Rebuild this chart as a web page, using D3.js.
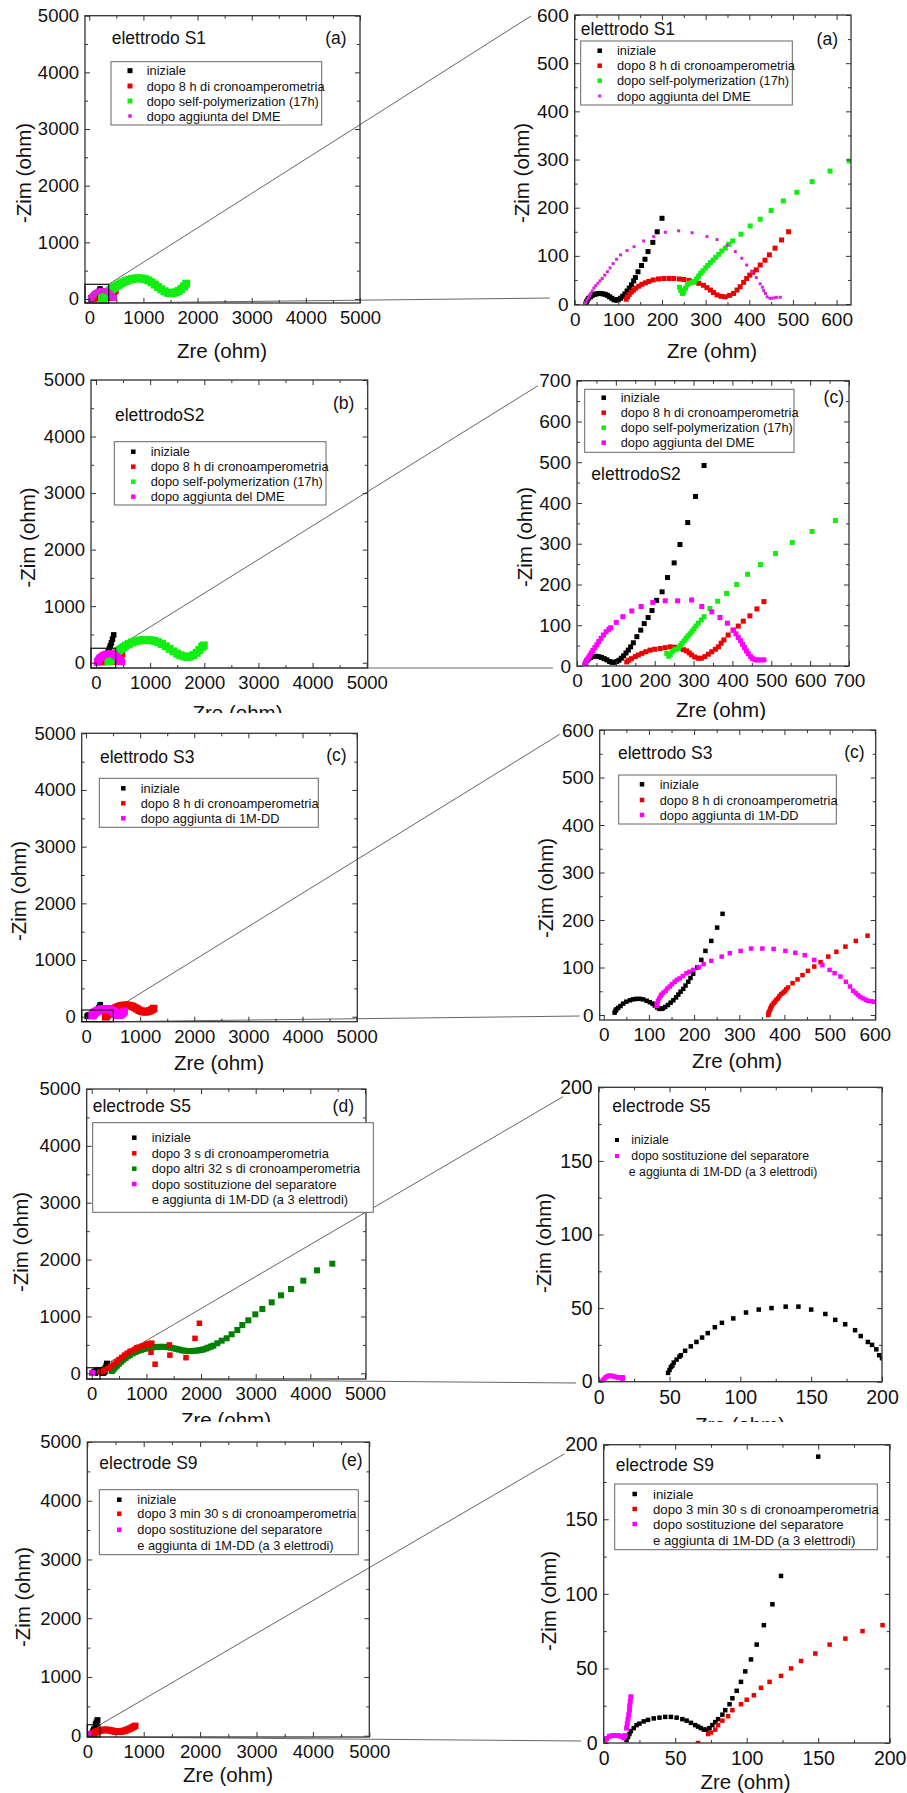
<!DOCTYPE html>
<html><head><meta charset="utf-8">
<script src="https://cdn.jsdelivr.net/npm/d3@7"></script>
<style>
html,body{margin:0;padding:0;background:#fff;}
svg{display:block;}
text{font-family:"Liberation Sans",Arial,sans-serif;fill:#111;}
</style></head><body>
<svg id="chart" width="907" height="1793"></svg>
<script>
// ---------------- DATA ----------------
const ticksWide = [0,1000,2000,3000,4000,5000];
const ticks600 = [0,100,200,300,400,500,600];
const ticks700 = [0,100,200,300,400,500,600,700];
const ticks200 = [0,50,100,150,200];

const legendS1 = ["iniziale","dopo 8 h di cronoamperometria","dopo self-polymerization (17h)","dopo aggiunta del DME"];
const legendS3 = ["iniziale","dopo 8 h di cronoamperometria","dopo aggiunta di 1M-DD"];
const legendS5 = ["iniziale","dopo 3 s di cronoamperometria","dopo altri 32 s di cronoamperometria","dopo sostituzione del separatore","e aggiunta di 1M-DD (a 3 elettrodi)"];
const legendS5zoom = ["iniziale","dopo sostituzione del separatore","e aggiunta di 1M-DD (a 3 elettrodi)"];
const legendS9 = ["iniziale","dopo 3 min 30 s di cronoamperometria","dopo sostituzione del separatore","e aggiunta di 1M-DD (a 3 elettrodi)"];

// electrode S1
const s1Iniziale = [[25,0],[27,4],[29,8],[32,12],[36,15],[40,18],[45,20],[50,21],[55,22],[60,22],[65,21],[70,20],[75,18],[80,15],[85,12],[90,9],[95,8],[100,9],[105,12],[110,16],[115,21],[120,27],[125,33],[130,40],[135,48],[139,55],[145,67],[153,80],[161,93],[168,109],[179,128],[189,150],[200,178]];
const s1Crono = [[118,10],[121,15],[125,20],[130,25],[135,29],[140,33],[147,37],[154,41],[162,44],[170,47],[180,50],[192,52],[204,53],[216,53],[227,53],[240,52],[250,51],[262,49],[273,46],[284,43],[295,39],[303,34],[311,29],[318,24],[326,19],[335,16],[345,15],[355,18],[364,22],[372,29],[379,36],[387,45],[394,53],[401,60],[408,66],[416,71],[425,81],[436,91],[446,102],[459,116],[474,133],[490,150]];
const s1Self = [[240,35],[243,28],[247,22],[250,25],[254,33],[258,40],[263,43],[268,45],[274,46],[279,52],[284,58],[289,64],[294,69],[300,75],[305,80],[311,86],[317,91],[323,97],[330,103],[337,110],[345,116],[353,124],[362,131],[381,145],[402,162],[425,176],[450,194],[478,214],[509,232],[544,254],[585,276],[629,297],[680,318],[735,338],[790,352],[850,362],[910,366],[970,362],[1030,350],[1090,328],[1150,295],[1210,255],[1270,210],[1330,170],[1390,135],[1450,110],[1500,102],[1550,105],[1600,118],[1650,140],[1700,175],[1750,220],[1790,270]];
const s1DME = [[22,0],[25,3],[28,8],[31,12],[34,17],[37,22],[40,27],[44,33],[48,38],[53,43],[58,48],[63,53],[69,60],[75,67],[81,75],[88,84],[96,93],[105,102],[120,111],[136,119],[158,131],[181,140],[208,149],[238,152],[269,148],[303,140],[326,134],[349,122],[368,109],[383,95],[394,81],[406,67],[416,55],[425,42],[430,35],[433,28],[437,22],[441,15],[447,12],[452,12],[458,13],[463,14],[471,14]];

// electrode S2
const s2Iniziale = [[21,4],[23,9],[26,14],[30,18],[35,21],[41,23],[48,24],[56,23],[63,21],[70,18],[77,15],[84,11],[90,9],[96,9],[102,11],[108,14],[114,19],[120,25],[126,32],[132,39],[138,47],[145,57],[154,72],[164,88],[173,104],[183,119],[193,136],[205,161],[219,182],[233,217],[250,253],[265,298],[285,352],[305,416],[327,492]];
const s2Crono = [[128,10],[133,14],[140,18],[150,23],[158,27],[167,31],[177,35],[188,39],[200,41],[214,43],[227,45],[240,47],[252,46],[265,43],[274,40],[282,37],[289,32],[295,27],[303,22],[312,19],[320,19],[329,23],[338,29],[347,35],[356,41],[364,47],[371,56],[378,64],[389,76],[402,88],[415,98],[428,110],[445,123],[463,140],[481,158]];
const s2Self = [[231,31],[236,24],[240,28],[245,35],[250,39],[255,41],[261,43],[266,50],[270,56],[276,62],[281,68],[286,74],[291,79],[296,85],[301,91],[306,98],[312,105],[320,113],[327,121],[342,141],[362,159],[385,178],[411,200],[439,225],[472,249],[511,276],[554,303],[605,330],[665,357],[730,378],[800,392],[870,400],[940,402],[1010,398],[1080,385],[1150,362],[1220,330],[1290,290],[1360,245],[1430,200],[1500,160],[1560,130],[1620,112],[1680,100],[1740,110],[1800,135],[1860,175],[1910,225],[1960,280],[1990,305]];
const s2DME = [[20,3],[22,8],[25,14],[29,20],[33,26],[37,32],[41,38],[46,45],[51,52],[56,60],[62,68],[68,76],[75,84],[82,90],[87,94],[101,107],[118,121],[141,135],[165,146],[195,156],[227,160],[259,160],[295,162],[321,146],[347,133],[368,119],[387,105],[402,88],[409,79],[415,70],[421,62],[426,53],[431,45],[436,37],[441,30],[447,23],[452,18],[458,15],[464,15],[471,15],[481,15]];

// electrode S3
const s3Iniziale = [[24,5],[26,9],[28,12],[32,15],[37,19],[43,24],[50,28],[58,31],[65,33],[72,34],[80,34],[87,33],[95,30],[102,27],[108,24],[113,20],[118,16],[123,13],[128,13],[131,14],[136,17],[142,21],[148,26],[154,31],[160,37],[165,43],[170,49],[176,55],[181,62],[187,70],[192,78],[198,87],[207,100],[216,116],[225,135],[238,156],[251,184],[263,213]];
const s3Crono = [[364,0],[365,4],[366,7],[368,11],[369,14],[371,18],[373,21],[376,25],[379,28],[382,32],[386,35],[389,40],[393,44],[397,47],[401,50],[404,54],[408,58],[418,67],[429,75],[440,84],[452,93],[466,102],[480,111],[497,123],[515,133],[535,144],[558,156],[584,167],[610,178],[640,188],[670,195],[700,199],[740,202],[780,200],[820,192],[860,180],[900,162],[940,140],[980,115],[1020,98],[1060,88],[1100,86],[1140,92],[1180,105],[1220,125],[1250,145]];
const s3DD = [[117,19],[118,24],[120,30],[123,35],[126,40],[128,43],[132,47],[137,51],[141,56],[146,60],[151,65],[157,70],[162,74],[168,77],[175,82],[183,88],[190,91],[198,95],[210,101],[221,107],[238,114],[261,123],[279,130],[303,135],[326,140],[351,140],[376,139],[402,135],[424,131],[445,126],[466,116],[484,105],[500,95],[511,88],[524,81],[536,70],[545,60],[552,51],[558,46],[563,42],[568,38],[574,35],[580,32],[585,30],[591,29],[598,28],[620,30],[645,38],[670,55],[690,75],[705,95]];

// electrode S5
const s5Iniziale = [[49,6],[50,8],[51,10],[52,11],[53,13],[55,15],[57,17],[58,18],[61,21],[65,24],[69,27],[73,30],[77,33],[82,37],[87,40],[95,43],[104,47],[113,49],[122,50],[132,51],[141,51],[150,49],[160,46],[167,42],[174,39],[181,35],[185,31],[190,27],[193,25],[196,22],[198,18],[200,16],[205,12],[215,14],[230,25],[245,50],[258,90],[270,130],[280,170]];
const s5Crono3s = [[150,25],[200,40],[250,60],[300,90],[350,125],[400,160],[450,200],[500,240],[550,280],[600,320],[650,355],[700,385],[732,392],[780,420],[823,451],[870,462],[920,478],[970,490],[1006,510],[1040,515],[1070,525],[1100,530],[1085,370],[1160,160],[1420,500],[1430,320],[1725,275],[1890,615],[1970,880]];
const s5Crono32s = [[366,40],[380,55],[400,75],[430,105],[460,135],[500,170],[540,205],[580,240],[620,270],[660,300],[700,325],[750,350],[800,375],[850,395],[900,412],[950,425],[1000,437],[1050,447],[1100,455],[1150,460],[1200,464],[1250,466],[1300,466],[1350,464],[1400,458],[1450,450],[1500,440],[1550,428],[1600,417],[1650,405],[1700,397],[1750,392],[1800,391],[1850,393],[1900,397],[1950,403],[2000,410],[2043,420],[2090,435],[2134,452],[2180,470],[2225,487],[2298,528],[2378,574],[2469,616],[2560,686],[2664,762],[2755,849],[2865,932],[2993,1037],[3122,1131],[3293,1248],[3463,1372],[3646,1483],[3871,1629],[4122,1811],[4402,1928]];
const s5Separatore = [[2,0],[3,1],[4,2],[5,3],[6,3.5],[7,4],[8,4],[9,4],[10,3.8],[11,3.5],[12,3.2],[13,3],[14,3],[15,3],[16,3],[17,3],[17,2],[17,1],[17,0]];

// electrode S9
const s9Iniziale = [[16,2],[17,4],[18,6],[19,8],[21,10],[23,12],[25,13],[28,14.5],[31,15.5],[35,16.5],[39,17],[43,17.5],[47,17.5],[51,17],[55,16],[58,15],[61,13.5],[64,12],[66,11],[68,10],[70,9],[72,9],[74,10],[76,12],[78,14],[80,16],[83,19],[85,22],[88,26],[90,30],[93,35],[96,41],[99,48],[103,56],[107,66],[112,79],[118,93],[124,112],[150,192],[165,225],[180,265]];
const s9Crono = [[66,0],[73,6],[75,7],[78,9],[80,12],[83,15],[87,18],[90,22],[96,26],[100,29],[105,32],[110,37],[116,41],[124,45],[131,50],[138,55],[148,60],[158,66],[169,70],[181,75],[195,79],[220,85],[250,92],[280,97],[310,100],[340,100],[370,97],[400,92],[430,85],[460,78],[490,72],[520,68],[550,66],[580,68],[610,72],[640,80],[670,88],[700,98],[730,110],[760,122],[790,138],[820,152],[850,168]];
const s9Separatore = [[1,1],[2,3],[4,4.5],[6,5],[8,5],[10,5],[12,4.5],[14,3.5],[15,5],[16,10],[16.5,13],[17,16],[17.5,19],[18,22],[18.2,25],[18.6,28],[19,31]];

// ---------------- STYLE / LAYOUT ----------------
const C = {black:"#000000", red:"#ee0000", lime:"#11ee11", green:"#008000", mag:"#ff00ff", magSoft:"#dd22dd"};

const panels = [
 {id:"p1l", frame:[85,15.7,360,303], xDomain:[-79,5000], yDomain:[-71,5000], xTicks:ticksWide, yTicks:ticksWide, minor:500, clip:[0,0,453,362], font:18.5,
  series:[[s1Iniziale,C.black,5.5],[s1Crono,C.red,6],[s1Self,C.lime,8],[s1DME,C.magSoft,5]],
  title:["elettrodo S1",111.7,38.3], tag:["(a)",346.7,38.3],
  legend:{labels:legendS1, colors:[C.black,C.red,C.lime,C.magSoft], ms:[5,5,5,3.5], box:[111,61.7,321.7,125], mx:130, tx:146.7, rows:[70.7,86,101,116], font:12.8},
  yTitle:[23,173], xTitle:[222,350], zoom:{box:[358,259], to:"p1r", top:[-43.7,1], bottom:[-25,-6]}},
 {id:"p1r", frame:[574.7,15,851,305], xDomain:[0,633], yDomain:[-2,600], xTicks:ticks600, yTicks:ticks600, minor:50, clip:[453,0,454,362], font:19,
  series:[[s1Iniziale,C.black,5],[s1Crono,C.red,5],[s1Self,C.lime,5],[s1DME,C.magSoft,3]],
  title:["elettrodo S1",580.7,29.3], tag:["(a)",838,39.3],
  legend:{labels:legendS1, colors:[C.black,C.red,C.lime,C.magSoft], ms:[4.5,4.5,4.5,3], box:[580.7,41,792.3,105], mx:599.7, tx:617, rows:[50.7,65.7,80.7,96], font:12.8},
  yTitle:[521,173], xTitle:[712,350]},
 {id:"p2l", frame:[91,380,367.7,668], xDomain:[-92,5018], yDomain:[-94,5000], xTicks:ticksWide, yTicks:ticksWide, minor:500, clip:[0,362,453,351], font:18.5,
  series:[[s2Iniziale,C.black,5.5],[s2Crono,C.red,6.5],[s2Self,C.lime,8],[s2DME,C.mag,6.5]],
  title:["elettrodoS2",115,415], tag:["(b)",354.3,403.3],
  legend:{labels:legendS1, colors:[C.black,C.red,C.lime,C.mag], ms:[4.5,4.5,4.5,4.5], box:[114.3,441.7,326,505], mx:133.3, tx:150.7, rows:[451.7,466.7,481.7,496.7], font:12.8},
  yTitle:[27,537.5], xTitle:[237.5,712], zoom:{box:[364,255], to:"p2r", top:[-39,5], bottom:[-24,2]}},
 {id:"p2r", frame:[577,380.7,849,666], xDomain:[0,700], yDomain:[0,700], xTicks:ticks700, yTicks:ticks700, minor:50, clip:[453,362,454,358], font:19,
  series:[[s2Iniziale,C.black,5],[s2Crono,C.red,5],[s2Self,C.lime,5],[s2DME,C.mag,5]],
  title:["elettrodoS2",591.3,474.3], tag:["(c)",844,396.7],
  legend:{labels:legendS1, colors:[C.black,C.red,C.lime,C.mag], ms:[4.5,4.5,4.5,4.5], box:[584.7,389.3,794,452.3], mx:603.7, tx:620.7, rows:[397.7,412.7,427.7,442.7], font:12.8},
  yTitle:[524,537], xTitle:[721,709]},
 {id:"p3l", frame:[81.7,733.3,357.3,1021.7], xDomain:[-80,5012], yDomain:[-88,5000], xTicks:ticksWide, yTicks:ticksWide, minor:500, clip:[0,720,453,355], font:18.5,
  series:[[s3Iniziale,C.black,5.5],[s3Crono,C.red,7.5],[s3DD,C.mag,7.5]],
  title:["elettrodo S3",100,756.7], tag:["(c)",346.7,755],
  legend:{labels:legendS3, colors:[C.black,C.red,C.mag], ms:[4.5,4.5,4.5], box:[99.3,778.3,318.3,827.3], mx:123.3, tx:140.7, rows:[788.3,803.3,818.3], font:12.8},
  yTitle:[18,891], xTitle:[219,1062], zoom:{box:[504,118], to:"p3r", top:[-40,4.3], bottom:[-20,1]}},
 {id:"p3r", frame:[599.7,730,875.7,1020], xDomain:[-9,602], yDomain:[-10.5,600], xTicks:ticks600, yTicks:ticks600, minor:50, clip:[453,720,454,355], font:19,
  series:[[s3Iniziale,C.black,4.5],[s3Crono,C.red,4.5],[s3DD,C.mag,4.5]],
  title:["elettrodo S3",618,753.3], tag:["(c)",864.7,751.7],
  legend:{labels:legendS3, colors:[C.black,C.red,C.mag], ms:[4.5,4.5,4.5], box:[618.7,775,836.3,824], mx:642, tx:659.7, rows:[784.3,800,815], font:12.8},
  yTitle:[545,888], xTitle:[737,1060]},
 {id:"p4l", frame:[86.7,1089,366,1379], xDomain:[-91.5,5018], yDomain:[-100,5000], xTicks:ticksWide, yTicks:ticksWide, minor:500, clip:[0,1075,453,347], font:18.5,
  series:[[s5Iniziale,C.black,6],[s5Crono32s,C.green,6],[s5Crono3s,C.red,5.5],[s5Separatore,C.mag,5]],
  title:["electrode S5",92.7,1105.7], tag:["(d)",354,1105.7],
  legend:{labels:legendS5, colors:[C.black,C.red,C.green,C.mag,null], ms:[4.5,4.5,4.5,4.5,0], box:[92.7,1122.7,373.3,1212.3], mx:134.3, tx:151.7, rows:[1137.7,1153.3,1168.7,1184,1199.3], font:12.8},
  yTitle:[20,1242], xTitle:[226,1419], zoom:{box:[152,98], to:"p4r", top:[-35.7,9.4], bottom:[-22.7,1.3]}},
 {id:"p4r", frame:[598.7,1087.3,882,1381.7], xDomain:[0,200], yDomain:[0,200], xTicks:ticks200, yTicks:ticks200, minor:25, clip:[453,1075,454,347], font:19.5,
  series:[[s5Iniziale,C.black,4.5],[s5Separatore,C.mag,4.5]],
  title:["electrode S5",612.3,1105.7], tag:null,
  legend:{labels:legendS5zoom, colors:[C.black,C.mag,null], ms:[4,4,0], box:null, mx:617, tx:631.3, rows:[1140,1156,1172.3], font:12.3},
  yTitle:[543,1243], xTitle:[740,1424]},
 {id:"p5l", frame:[87.3,1442,369.3,1737], xDomain:[0,5000], yDomain:[-22,5000], xTicks:ticksWide, yTicks:ticksWide, minor:500, clip:[0,1422,453,371], font:18.5,
  series:[[s9Iniziale,C.black,6],[s9Crono,C.red,6.5],[s9Separatore,C.mag,5]],
  title:["electrode S9",99.3,1463], tag:["(e)",362.7,1460.3],
  legend:{labels:legendS9, colors:[C.black,C.red,C.mag,null], ms:[4.5,4.5,4.5,0], box:[99.3,1489.7,358.3,1554.7], mx:119.3, tx:137.3, rows:[1499.7,1513.7,1529.7,1545.3], font:12.8},
  yTitle:[22,1597], xTitle:[228,1774], zoom:{box:[225,187], to:"p5r", top:[-39,9], bottom:[-22.7,-2]}},
 {id:"p5r", frame:[603.7,1444.7,889.7,1743], xDomain:[0,200], yDomain:[0,200], xTicks:ticks200, yTicks:ticks200, minor:25, clip:[453,1422,454,371], font:19.5,
  series:[[s9Iniziale,C.black,4.5],[s9Crono,C.red,4.5],[s9Separatore,C.mag,5]],
  title:["electrode S9",615.7,1465.3], tag:null,
  legend:{labels:legendS9, colors:[C.black,C.red,C.mag,null], ms:[4.5,4.5,4.5,0], box:[614.7,1484,877.3,1549.7], mx:634.7, tx:653, rows:[1494,1509,1524,1540.3], font:13.2},
  yTitle:[548,1601], xTitle:[745.5,1781]}
];

// ---------------- DRAW ----------------
const svg = d3.select("#chart");
const defs = svg.append("defs");
svg.append("rect").attr("width",907).attr("height",1793).attr("fill","#fff");
const linesG = svg.append("g");
const scales = {};
const fmt = d3.format("d");

panels.forEach(p => {
  const [fx0, fy0, fx1, fy1] = p.frame;
  const x = d3.scaleLinear().domain(p.xDomain).range([fx0, fx1]);
  const y = d3.scaleLinear().domain(p.yDomain).range([fy1, fy0]);
  scales[p.id] = {x, y, p};

  defs.append("clipPath").attr("id","band-"+p.id).append("rect")
    .attr("x",p.clip[0]).attr("y",p.clip[1]).attr("width",p.clip[2]).attr("height",p.clip[3]);
  defs.append("clipPath").attr("id","plot-"+p.id).append("rect")
    .attr("x",fx0).attr("y",fy0).attr("width",fx1-fx0).attr("height",fy1-fy0);

  const g = svg.append("g").attr("clip-path",`url(#band-${p.id})`);

  // markers
  const mg = g.append("g").attr("clip-path",`url(#plot-${p.id})`);
  p.series.forEach(([data,color,size]) => {
    mg.append("g").selectAll("rect").data(data).join("rect")
      .attr("x", d => x(d[0]) - size/2).attr("y", d => y(d[1]) - size/2)
      .attr("width", size).attr("height", size).attr("fill", color);
  });

  // axes with inward ticks
  const minorX = d3.range(0, p.xDomain[1] + 1e-6, p.minor).filter(v => !p.xTicks.includes(v));
  const minorY = d3.range(0, p.yDomain[1] + 1e-6, p.minor).filter(v => !p.yTicks.includes(v));
  const styleAxis = (sel) => {
    sel.select(".domain").remove();
    sel.selectAll("line").attr("stroke","#333").attr("stroke-width",1);
    sel.selectAll("text").attr("font-family",'"Liberation Sans",Arial,sans-serif').attr("font-size",p.font).attr("fill","#111");
  };
  g.append("g").attr("transform",`translate(0,${fy1})`)
    .call(d3.axisBottom(x).tickValues(p.xTicks).tickFormat(fmt).tickSize(-5).tickPadding(8)).call(styleAxis);
  g.append("g").attr("transform",`translate(0,${fy1})`)
    .call(d3.axisBottom(x).tickValues(minorX).tickSize(-3).tickFormat("")).call(styleAxis);
  g.append("g").attr("transform",`translate(0,${fy0})`)
    .call(d3.axisTop(x).tickValues(p.xTicks).tickSize(-5).tickFormat("")).call(styleAxis);
  g.append("g").attr("transform",`translate(0,${fy0})`)
    .call(d3.axisTop(x).tickValues(minorX).tickSize(-3).tickFormat("")).call(styleAxis);
  g.append("g").attr("transform",`translate(${fx0},0)`)
    .call(d3.axisLeft(y).tickValues(p.yTicks).tickFormat(fmt).tickSize(-5).tickPadding(6)).call(styleAxis);
  g.append("g").attr("transform",`translate(${fx0},0)`)
    .call(d3.axisLeft(y).tickValues(minorY).tickSize(-3).tickFormat("")).call(styleAxis);
  g.append("g").attr("transform",`translate(${fx1},0)`)
    .call(d3.axisRight(y).tickValues(p.yTicks).tickSize(-5).tickFormat("")).call(styleAxis);
  g.append("g").attr("transform",`translate(${fx1},0)`)
    .call(d3.axisRight(y).tickValues(minorY).tickSize(-3).tickFormat("")).call(styleAxis);

  // frame
  g.append("rect").attr("x",fx0).attr("y",fy0).attr("width",fx1-fx0).attr("height",fy1-fy0)
    .attr("fill","none").attr("stroke","#333").attr("stroke-width",1.3);

  // axis titles
  g.append("text").attr("transform",`translate(${p.yTitle[0]},${p.yTitle[1]}) rotate(-90)`)
    .attr("text-anchor","middle").attr("dominant-baseline","central").attr("font-size",20.5).text("-Zim (ohm)");
  g.append("text").attr("x",p.xTitle[0]).attr("y",p.xTitle[1])
    .attr("text-anchor","middle").attr("dominant-baseline","central").attr("font-size",20.5).text("Zre (ohm)");

  // title & tag
  g.append("text").attr("x",p.title[1]).attr("y",p.title[2]).attr("dominant-baseline","central")
    .attr("font-size",17.5).text(p.title[0]);
  if (p.tag) g.append("text").attr("x",p.tag[1]).attr("y",p.tag[2]).attr("dominant-baseline","central")
    .attr("text-anchor","end").attr("font-size",17.5).text(p.tag[0]);

  // legend
  const L = p.legend;
  if (L.box) g.append("rect").attr("x",L.box[0]).attr("y",L.box[1]).attr("width",L.box[2]-L.box[0]).attr("height",L.box[3]-L.box[1])
    .attr("fill","#fff").attr("stroke","#666").attr("stroke-width",1);
  L.labels.forEach((lab,i) => {
    if (L.colors[i]) g.append("rect").attr("x",L.mx - L.ms[i]/2).attr("y",L.rows[i]-L.ms[i]/2)
      .attr("width",L.ms[i]).attr("height",L.ms[i]).attr("fill",L.colors[i]);
    g.append("text").attr("x", L.colors[i] ? L.tx : L.tx - (p.id==="p4r"?2.5:0)).attr("y",L.rows[i])
      .attr("dominant-baseline","central").attr("font-size",L.font).text(lab);
  });
});

// zoom boxes and connecting lines
panels.filter(p => p.zoom).forEach(p => {
  const {x, y} = scales[p.id];
  const r = scales[p.zoom.to];
  const [fx0, fy0, fx1, fy1] = p.frame;
  const bx = x(p.zoom.box[0]), by = y(p.zoom.box[1]);
  const rf = r.p.frame;
  linesG.append("line").attr("x1",bx).attr("y1",by)
    .attr("x2",rf[0]+p.zoom.top[0]).attr("y2",rf[1]+p.zoom.top[1])
    .attr("stroke","#555").attr("stroke-width",0.9);
  linesG.append("line").attr("x1",bx).attr("y1",fy1)
    .attr("x2",rf[0]+p.zoom.bottom[0]).attr("y2",r.y(0)+p.zoom.bottom[1])
    .attr("stroke","#555").attr("stroke-width",0.9);
  svg.append("rect").attr("x",fx0).attr("y",by).attr("width",bx-fx0).attr("height",fy1-by)
    .attr("fill","none").attr("stroke","#111").attr("stroke-width",1.2);
});
</script>
</body></html>
